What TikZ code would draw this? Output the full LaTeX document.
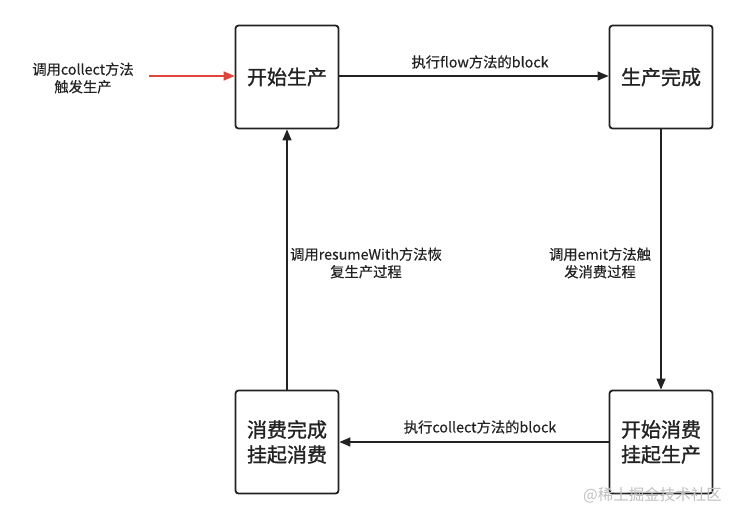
\documentclass[tikz,border=0pt]{standalone}
\usepackage{fontspec}
\setmainfont{Noto Sans CJK SC}[FakeBold=0.3]
\newfontfamily\cjkbold{Noto Sans CJK SC}[FakeBold=1.2]
\newfontfamily\cjkplain{Noto Sans CJK SC}
\usetikzlibrary{arrows.meta}
\definecolor{ink}{HTML}{222222}
\definecolor{redline}{HTML}{E0443A}
\begin{document}
\begin{tikzpicture}[x=1pt,y=-1pt,
  stbox/.style={draw=ink,line width=1.8pt,rounded corners=3pt,minimum width=103pt,minimum height=103pt,inner sep=0pt,align=center,font=\fontsize{20}{25}\selectfont\cjkbold,text=ink},
  conn/.style={draw=ink,line width=1.5pt,-{Triangle[length=11pt,width=9pt]}},
  lbl/.style={font=\fontsize{14.3}{17.5}\selectfont,text=ink,align=center,inner sep=0pt}]
\useasboundingbox (0,0) rectangle (738,519);
\node[stbox] (a) at (287,77) {开始生产};
\node[stbox] (b) at (661,77) {生产完成};
\node[stbox] (c) at (287,442) {消费完成\\挂起消费};
\node[stbox] (d) at (661,442) {开始消费\\挂起生产};
\coordinate (s) at (149,76);
\draw[conn,draw=redline,line width=1.7pt,-{Triangle[length=11pt,width=9pt,fill=redline]}] (s) -- (a.west |- s);
\node[lbl] (l0) at (83,78) {调用collect方法\\触发生产};
\draw[conn] (a.east |- 0,76) -- (b.west |- 0,76);
\node[lbl] (l1) at (480,62) {执行flow方法的block};
\draw[conn] (b.south) -- (d.north);
\node[lbl] (l2) at (600,263) {调用emit方法触\\发消费过程};
\draw[conn] (d.west) -- (c.east);
\node[lbl] (l3) at (480,427) {执行collect方法的block};
\draw[conn] (c.north) -- (a.south);
\node[lbl] (l4) at (366,263) {调用resumeWith方法恢\\复生产过程};
\node[font=\fontsize{15.5}{17}\selectfont\cjkplain,text=black!25,inner sep=0pt,anchor=east] (wm) at (722,495) {@稀土掘金技术社区};
\end{tikzpicture}
\end{document}
